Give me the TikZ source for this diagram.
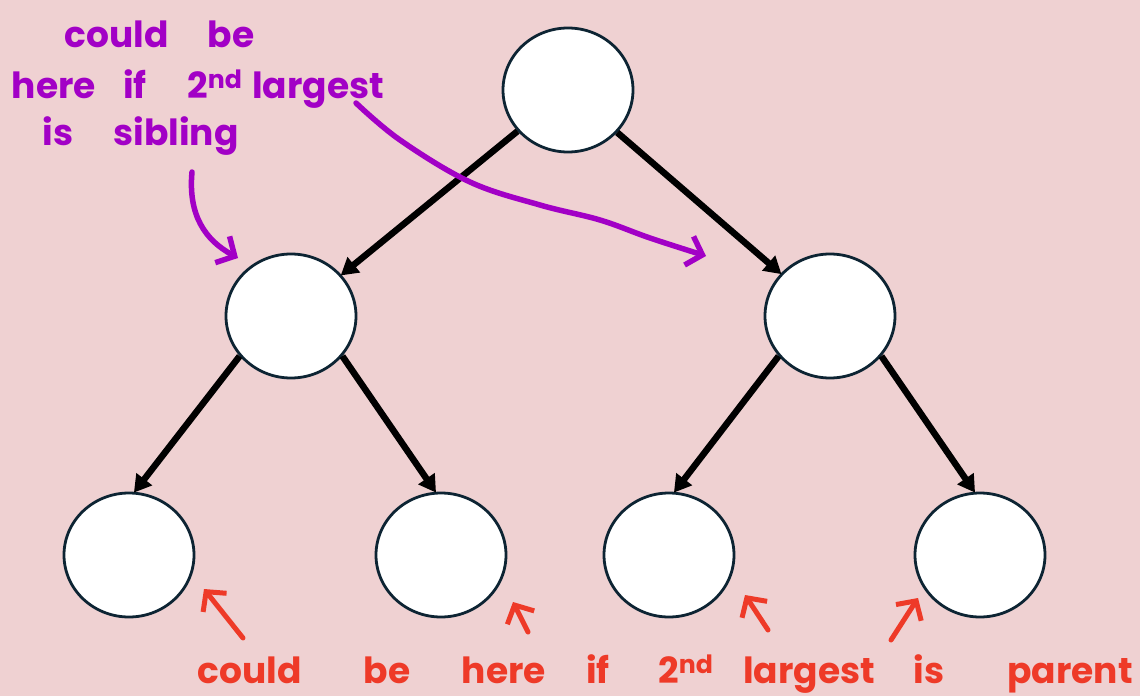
\documentclass[tikz,border=0pt]{standalone}
\usepackage{fontspec}
\setmainfont{Poppins}
\usetikzlibrary{arrows.meta,shapes.geometric}
\definecolor{bg}{HTML}{EFD1D2}
\definecolor{ink}{HTML}{0D2433}
\definecolor{purp}{HTML}{A200C6}
\definecolor{redd}{HTML}{EE3A28}
\tikzset{
  treenode/.style={ellipse,draw=ink,line width=2.8pt,fill=white,minimum width=130pt,minimum height=124pt,inner sep=0pt},
  edge/.style={line width=6.5pt,-{Triangle[length=17pt,width=19pt]},shorten >=-1pt},
  pnote/.style={text=purp,font=\fontsize{36}{40}\selectfont\bfseries,inner sep=0pt,anchor=base},
  rnote/.style={text=redd,font=\fontsize{36}{40}\selectfont\bfseries,inner sep=0pt,anchor=base},
  parrow/.style={draw=purp,line width=5.5pt,line cap=round,line join=round,-{Straight Barb[length=14pt,width=30pt,line width=5.5pt]}},
  rarrow/.style={draw=redd,line width=5pt,line cap=round,line join=round,-{Straight Barb[length=14pt,width=30pt,line width=5pt]}}
}
\begin{document}
\begin{tikzpicture}[x=1pt,y=-1pt]
\fill[bg] (0,0) rectangle (1140,696);
\useasboundingbox (0,0) rectangle (1140,696);
% tree
\node[treenode] (root) at (568,90) {};
\node[treenode] (l) at (291,316) {};
\node[treenode] (r) at (830,316) {};
\node[treenode] (ll) at (129,555) {};
\node[treenode] (lr) at (441,555) {};
\node[treenode] (rl) at (669,555) {};
\node[treenode] (rr) at (980,555) {};
\draw[edge] (root) -- (l);
\draw[edge] (root) -- (r);
\draw[edge] (l.218) -- (ll.85);
\draw[edge] (l.322) -- (lr.95);
\draw[edge] (r.218) -- (rl.85);
\draw[edge] (r.322) -- (rr.95);
% purple note
\node[pnote] (p1) at (117,47) {could};
\node[pnote] (p2) at (231,47) {be};
\node[pnote] (p3) at (54,98) {here};
\node[pnote] (p4) at (135,98) {if};
\node[pnote] (p5) at (215,98) {2\textsuperscript{nd}};
\node[pnote] (p6) at (318,98) {largest};
\node[pnote] (p7) at (58,145) {is};
\node[pnote] (p8) at (176,145) {sibling};
\coordinate (pa1) at (192,172);
\coordinate (pa1e) at (238,258);
\draw[parrow] (pa1) .. controls (188,215) and (205,240) .. (pa1e);
\coordinate (pa2) at (356,103);
\coordinate (pa2e) at (706,256);
\draw[parrow] plot[smooth,tension=0.6] coordinates {(pa2) (400,140) (470,182) (540,205) (600,220) (650,238) (pa2e)};
% red note
\node[rnote] (q1) at (250,683) {could};
\node[rnote] (q2) at (387,683) {be};
\node[rnote] (q3) at (504,683) {here};
\node[rnote] (q4) at (598,683) {if};
\node[rnote] (q5) at (686,683) {2\textsuperscript{nd}};
\node[rnote] (q6) at (809,683) {largest};
\node[rnote] (q7) at (929,683) {is};
\node[rnote] (q8) at (1070,683) {parent};
\coordinate (ra1) at (243,638);
\coordinate (ra1e) at (204,589);
\coordinate (ra2) at (528,632);
\coordinate (ra2e) at (513,602);
\coordinate (ra3) at (768,630);
\coordinate (ra3e) at (745,595);
\coordinate (ra4) at (891,640);
\coordinate (ra4e) at (918,598);
\draw[rarrow] (ra1) -- (ra1e);
\draw[rarrow] (ra2) -- (ra2e);
\draw[rarrow] (ra3) -- (ra3e);
\draw[rarrow] (ra4) -- (ra4e);
\end{tikzpicture}
\end{document}
